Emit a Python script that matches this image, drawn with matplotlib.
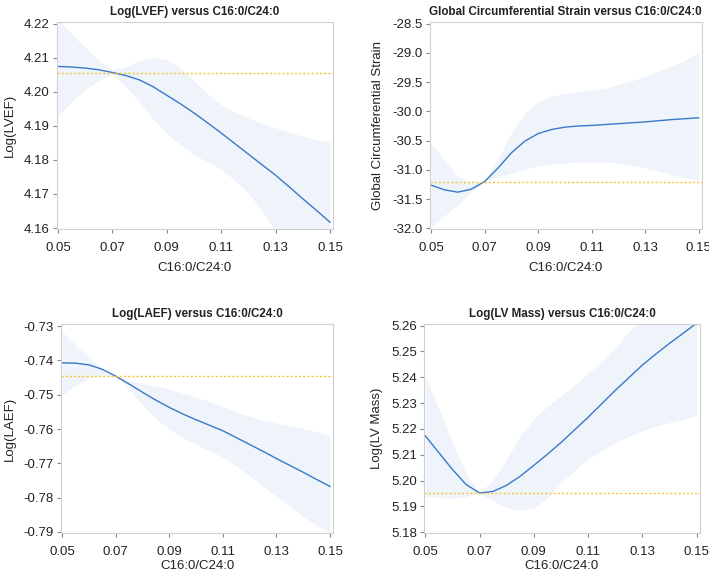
import matplotlib
matplotlib.use("Agg")
import matplotlib.pyplot as plt

plt.rcParams["font.family"] = ["Liberation Sans", "DejaVu Sans"]

X_LABEL = "C16:0/C24:0"
x_grid = [0.050, 0.055, 0.060, 0.065, 0.070, 0.075, 0.080, 0.085, 0.090, 0.095, 0.100,
          0.105, 0.110, 0.115, 0.120, 0.125, 0.130, 0.135, 0.140, 0.145, 0.150]

# Log(LVEF)
lvef_fit = [4.2075, 4.2073, 4.2070, 4.2065, 4.2057, 4.2048, 4.2035, 4.2015, 4.1990, 4.1965,
            4.1938, 4.1909, 4.1879, 4.1848, 4.1817, 4.1786, 4.1755, 4.1721, 4.1686, 4.1652,
            4.1617]
lvef_lo = [4.1928, 4.1972, 4.2006, 4.2035, 4.2052, 4.2015, 4.1970, 4.1920, 4.1878, 4.1845,
           4.1815, 4.1795, 4.1772, 4.1740, 4.1703, 4.1650, 4.1590, 4.1540, 4.1495, 4.1450,
           4.1400]
lvef_hi = [4.2215, 4.2170, 4.2130, 4.2093, 4.2065, 4.2075, 4.2093, 4.2101, 4.2096, 4.2070,
           4.2032, 4.1995, 4.1962, 4.1940, 4.1923, 4.1907, 4.1894, 4.1882, 4.1870, 4.1860,
           4.1852]
lvef_ref = 4.2056

# Global circumferential strain
gcs_fit = [-31.26, -31.34, -31.38, -31.33, -31.20, -30.97, -30.71, -30.51, -30.38, -30.31,
           -30.27, -30.25, -30.24, -30.225, -30.21, -30.195, -30.18, -30.16, -30.14, -30.125,
           -30.11]
gcs_lo = [-31.97, -31.78, -31.60, -31.38, -31.20, -31.12, -31.06, -30.99, -30.93, -30.90,
          -30.88, -30.87, -30.87, -30.87, -30.88, -30.92, -30.97, -31.02, -31.08, -31.13,
          -31.18]
gcs_hi = [-30.54, -30.83, -31.11, -31.23, -31.20, -30.83, -30.37, -30.03, -29.83, -29.74,
          -29.69, -29.66, -29.64, -29.60, -29.54, -29.48, -29.40, -29.32, -29.23, -29.12,
          -29.00]
gcs_ref = -31.20

# Log(LAEF)
laef_fit = [-0.7407, -0.7408, -0.7413, -0.7426, -0.7446, -0.7469, -0.7493, -0.7516, -0.7537,
            -0.7556, -0.7573, -0.7589, -0.7605, -0.7625, -0.7645, -0.7665, -0.7686, -0.7706,
            -0.7726, -0.7747, -0.7767]
laef_lo = [-0.7501, -0.7472, -0.7452, -0.7442, -0.7446, -0.7485, -0.7530, -0.7570, -0.7600,
           -0.7625, -0.7645, -0.7663, -0.7682, -0.7708, -0.7737, -0.7767, -0.7796, -0.7826,
           -0.7855, -0.7880, -0.7902]
laef_hi = [-0.7317, -0.7355, -0.7392, -0.7425, -0.7446, -0.7458, -0.7467, -0.7475, -0.7484,
           -0.7495, -0.7507, -0.7520, -0.7535, -0.7550, -0.7563, -0.7574, -0.7583, -0.7591,
           -0.7599, -0.7608, -0.7620]
laef_ref = -0.7446

# Log(LV Mass)
lvm_fit = [5.2173, 5.2108, 5.2043, 5.1985, 5.1952, 5.1958, 5.1982, 5.2017, 5.2059, 5.2102,
           5.2147, 5.2196, 5.2245, 5.2297, 5.2349, 5.2398, 5.2447, 5.2490, 5.2531, 5.2570,
           5.2609]
lvm_lo = [5.1939, 5.1935, 5.1932, 5.1939, 5.1952, 5.1920, 5.1894, 5.1885, 5.1894, 5.1933,
          5.1991, 5.2040, 5.2082, 5.2117, 5.2147, 5.2172, 5.2193, 5.2210, 5.2225, 5.2238,
          5.2251]
lvm_hi = [5.2401, 5.2277, 5.2147, 5.2030, 5.1952, 5.2004, 5.2082, 5.2173, 5.2238, 5.2288,
          5.2329, 5.2370, 5.2414, 5.2462, 5.2512, 5.2577, 5.2630, 5.2690, 5.2750, 5.2810,
          5.2870]
lvm_ref = 5.1952

panels = [
    ("Log(LVEF) versus C16:0/C24:0", "Log(LVEF)", lvef_fit, lvef_lo, lvef_hi, lvef_ref,
     [4.16, 4.17, 4.18, 4.19, 4.20, 4.21, 4.22], "{:.2f}", (4.1597, 4.2206),
     [0.080, 0.601, 0.390, 0.361], 6),
    ("Global Circumferential Strain versus C16:0/C24:0", "Global Circumferential Strain",
     gcs_fit, gcs_lo, gcs_hi, gcs_ref,
     [-32.0, -31.5, -31.0, -30.5, -30.0, -29.5, -29.0, -28.5], "{:.1f}", (-32.01, -28.47),
     [0.606, 0.601, 0.384, 0.361], 6),
    ("Log(LAEF) versus C16:0/C24:0", "Log(LAEF)", laef_fit, laef_lo, laef_hi, laef_ref,
     [-0.79, -0.78, -0.77, -0.76, -0.75, -0.74, -0.73], "{:.2f}", (-0.7903, -0.7294),
     [0.086, 0.0714, 0.384, 0.364], 2),
    ("Log(LV Mass) versus C16:0/C24:0", "Log(LV Mass)", lvm_fit, lvm_lo, lvm_hi, lvm_ref,
     [5.18, 5.19, 5.20, 5.21, 5.22, 5.23, 5.24, 5.25, 5.26], "{:.2f}", (5.1797, 5.2606),
     [0.598, 0.0714, 0.389, 0.364], 2),
]

x_ticks = [0.05, 0.07, 0.09, 0.11, 0.13, 0.15]

fig = plt.figure(figsize=(7.09, 5.74), dpi=100)
for title, ylabel, fit, lo, hi, ref, yticks, fmt, ylim, rect, xpad in panels:
    ax = fig.add_axes(rect)
    ax.fill_between(x_grid, lo, hi, color="#eef4fa", linewidth=0)
    ax.plot(x_grid, fit, color="#3b78c8", linewidth=1.0)
    ax.axhline(ref, color="#f5c431", linewidth=1.0, linestyle=(0, (1.5, 1.5)))
    ax.set_xlim(0.0495, 0.1512)
    ax.set_ylim(*ylim)
    ax.set_xticks(x_ticks)
    ax.set_xticklabels([f"{t:.2f}" for t in x_ticks])
    ax.set_yticks(yticks)
    ax.set_yticklabels([fmt.format(t) for t in yticks])
    for sp in ax.spines.values():
        sp.set_color("#d0d0d0")
        sp.set_linewidth(0.8)
    ax.tick_params(colors="#888888", labelcolor="#222222", labelsize=9.5,
                   length=3, width=0.8, pad=2)
    ax.tick_params(axis="x", pad=6)
    ax.set_xlabel(X_LABEL, fontsize=9.5, color="#222222", labelpad=xpad)
    ax.set_ylabel(ylabel, fontsize=9.5, color="#222222", labelpad=6)
    ax.set_title(title, fontsize=8.4, fontweight="bold", color="#222222", pad=5)

fig.savefig("out.png", dpi=100)
plt.close(fig)
